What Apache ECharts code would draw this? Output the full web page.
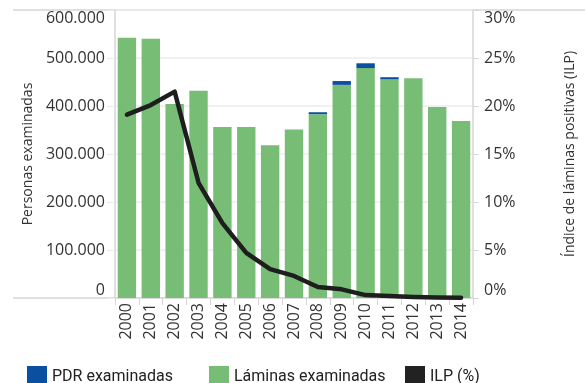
<!DOCTYPE html>
<html>
<head>
<meta charset="utf-8">
<script src="https://cdn.jsdelivr.net/npm/echarts@6/dist/echarts.min.js"></script>
<style>
html,body{margin:0;padding:0;background:#fff;}
#chart{width:585px;height:383px;}
</style>
</head>
<body>
<div id="chart"></div>
<script>
var years = ['2000','2001','2002','2003','2004','2005','2006','2007','2008','2009','2010','2011','2012','2013','2014'];
var laminas = [542000, 540000, 404000, 432000, 356000, 356000, 318000, 351000, 383000, 444000, 479000, 456000, 458000, 398000, 369000];
var pdr = [0, 0, 0, 0, 0, 0, 0, 0, 4000, 8000, 10000, 4000, 0, 0, 0];
var ilp = [19.1, 20.1, 21.5, 12.0, 7.8, 4.7, 3.0, 2.3, 1.15, 0.9, 0.3, 0.2, 0.1, 0.05, 0.03];
var leftTicks = [0, 100000, 200000, 300000, 400000, 500000, 600000];
var rightTicks = [0, 5, 10, 15, 20, 25, 30];

function fmtThousands(v){
  return String(v).replace(/\B(?=(\d{3})+(?!\d))/g, '.');
}

var chart = echarts.init(document.getElementById('chart'), null, {renderer:'canvas'});
var axisFont = 'Open Sans';
var lineGray = '#d6d6d6';
var gridGray = '#ececec';
var legendText = {fontFamily:'Liberation Sans Narrow, Roboto, sans-serif', fontSize:16, color:'#222'};

var option = {
  animation:false,
  grid:{left:115, right:98, top:10, bottom:85, containLabel:false},
  legend:[
    {data:[{name:'PDR examinadas', icon:'rect'}], left:22, top:361, itemWidth:20, itemHeight:21, itemGap:6, textStyle:legendText, selectedMode:false},
    {data:[{name:'Láminas examinadas', icon:'rect'}], left:204, top:361, itemWidth:20, itemHeight:21, textStyle:legendText, selectedMode:false},
    {data:[{name:'ILP (%)', icon:'rect', itemStyle:{color:'#222222'}}], left:400, top:361, itemWidth:20, itemHeight:21, textStyle:legendText, selectedMode:false}
  ],
  xAxis:{
    type:'category', data:years, boundaryGap:true,
    axisLine:{show:true, lineStyle:{color:lineGray, width:1.5}},
    axisTick:{show:true, alignWithLabel:false, length:7, lineStyle:{color:lineGray}},
    axisLabel:{rotate:90, margin:5, fontFamily:axisFont, fontSize:16, color:'#333'}
  },
  yAxis:[
    {
      type:'value', min:0, max:600000, interval:100000, position:'left',
      name:'Personas examinadas', nameLocation:'middle', nameRotate:90, nameGap:77,
      nameTextStyle:{fontFamily:axisFont, fontSize:14, color:'#333'},
      axisLine:{show:true, lineStyle:{color:lineGray, width:1.5}},
      axisTick:{show:true, length:8, lineStyle:{color:gridGray}},
      splitLine:{show:true, lineStyle:{color:gridGray, width:1.5}},
      axisLabel:{margin:10, fontFamily:axisFont, fontSize:16, color:'#333',
        verticalAlignMinLabel:'bottom', verticalAlignMaxLabel:'top',
        formatter:function(v){return fmtThousands(v);}}
    },
    {
      type:'value', min:0, max:30, interval:5, position:'right',
      name:'Índice de láminas positivas (ILP)', nameLocation:'middle', nameRotate:90, nameGap:90,
      nameTextStyle:{fontFamily:axisFont, fontSize:14, color:'#333'},
      axisLine:{show:true, lineStyle:{color:lineGray, width:1.5}},
      axisTick:{show:true, length:6, lineStyle:{color:lineGray}},
      splitLine:{show:false},
      axisLabel:{margin:11, fontFamily:axisFont, fontSize:16, color:'#333',
        verticalAlignMinLabel:'bottom', verticalAlignMaxLabel:'top',
        formatter:'{value}%'}
    }
  ],
  series:[
    {name:'Láminas examinadas', type:'bar', stack:'s', data:laminas, barCategoryGap:'23%',
      itemStyle:{color:'#78bd76'}},
    {name:'PDR examinadas', type:'bar', stack:'s', data:pdr,
      itemStyle:{color:'#0b50a0'}},
    {name:'ILP (%)', type:'line', yAxisIndex:1, data:ilp, symbol:'none', smooth:false,
      lineStyle:{color:'#1e1e1e', width:4.5, join:'round', cap:'round'}, itemStyle:{color:'#1e1e1e'}, z:5}
  ],
  graphic:[
    {type:'line', shape:{x1:13, y1:10, x2:585, y2:10}, style:{stroke:lineGray, lineWidth:1.5}, silent:true},
    {type:'line', shape:{x1:13, y1:298, x2:115, y2:298}, style:{stroke:lineGray, lineWidth:1.5}, silent:true}
  ]
};
chart.setOption(option);
</script>
</body>
</html>
